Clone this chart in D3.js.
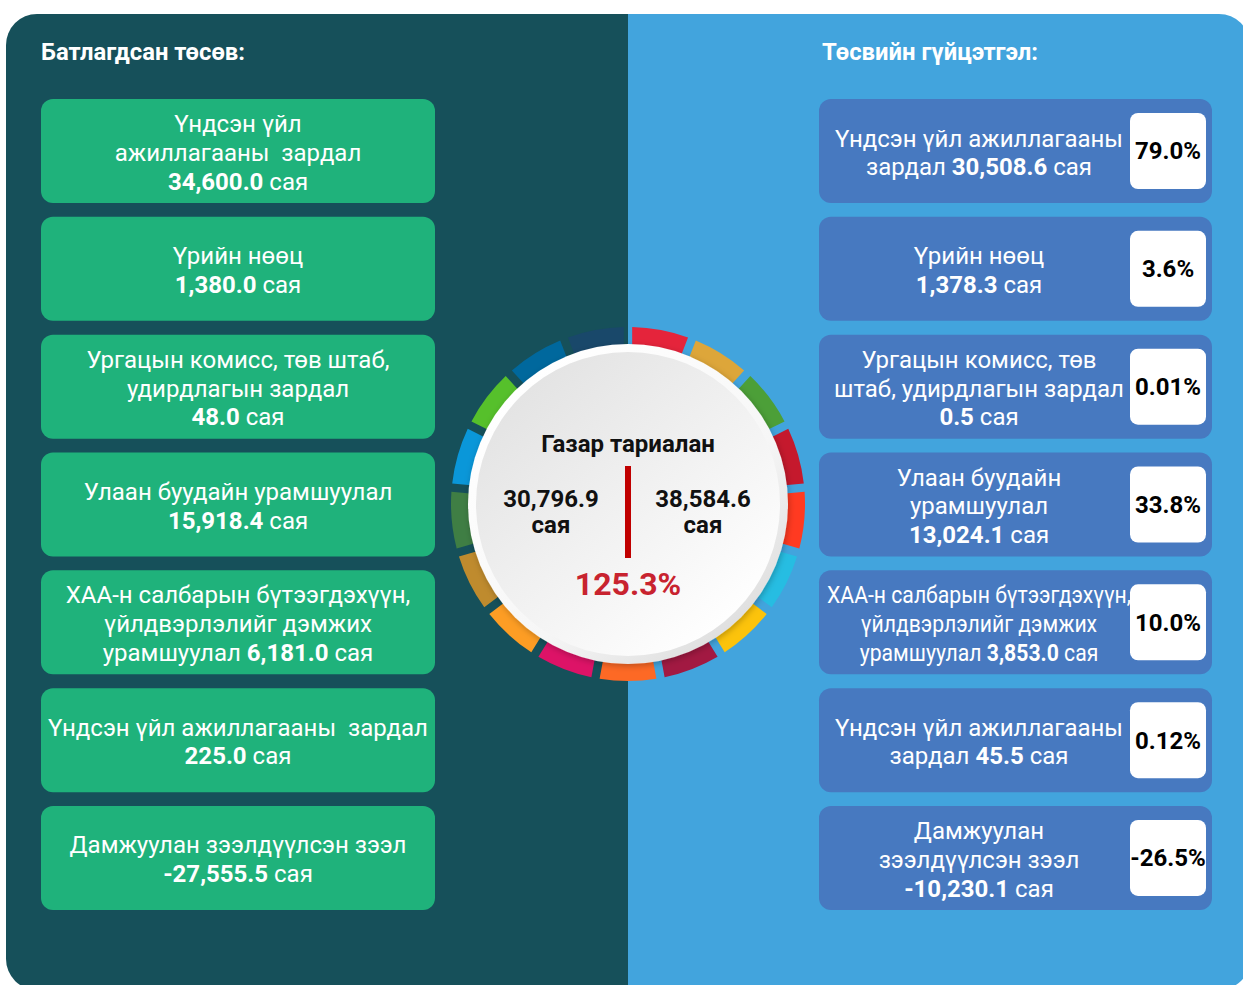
<!DOCTYPE html>
<html><head><meta charset="utf-8">
<script src="https://cdn.jsdelivr.net/npm/d3@7"></script>
<style>
body{margin:0;background:#fff;}
svg{display:block;font-family:Roboto,"Noto Sans",sans-serif;}
text{white-space:pre;}
</style>
</head><body>
<svg id="chart" width="1243" height="985"></svg>
<script>
// ---------------- DATA ----------------
const approvedTitle = "Батлагдсан төсөв:";
const executedTitle = "Төсвийн гүйцэтгэл:";
const unit = "сая";

const approvedLabels = [
  ["Үндсэн үйл", "ажиллагааны  зардал"],
  ["Үрийн нөөц"],
  ["Ургацын комисс, төв штаб,", "удирдлагын зардал"],
  ["Улаан буудайн урамшуулал"],
  ["ХАА-н салбарын бүтээгдэхүүн,", "үйлдвэрлэлийг дэмжих", "урамшуулал"],
  ["Үндсэн үйл ажиллагааны  зардал"],
  ["Дамжуулан зээлдүүлсэн зээл"]
];
const approvedValueInline = [false, false, false, false, true, false, false];
const approvedValues = [34600.0, 1380.0, 48.0, 15918.4, 6181.0, 225.0, -27555.5];

const executedLabels = [
  ["Үндсэн үйл ажиллагааны", "зардал"],
  ["Үрийн нөөц"],
  ["Ургацын комисс, төв", "штаб, удирдлагын зардал"],
  ["Улаан буудайн", "урамшуулал"],
  ["ХАА-н салбарын бүтээгдэхүүн,", "үйлдвэрлэлийг дэмжих", "урамшуулал"],
  ["Үндсэн үйл ажиллагааны", "зардал"],
  ["Дамжуулан", "зээлдүүлсэн зээл"]
];
const executedValueInline = [true, false, false, false, true, true, false];
const executedValues = [30508.6, 1378.3, 0.5, 13024.1, 3853.0, 45.5, -10230.1];
const executedPercents = [79.0, 3.6, 0.01, 33.8, 10.0, 0.12, -26.5];
const executedPercentDecimals = [1, 1, 2, 1, 1, 2, 1];

const centerTitle = "Газар тариалан";
const totalApproved = 30796.9;
const totalExecuted = 38584.6;
const totalPercent = 125.3;

const ringColors = ["#E5243B","#DDA63A","#4C9F38","#C5192D","#FF3A21","#26BDE2","#FCC30B",
  "#A21942","#FD6925","#DD1367","#FD9D24","#BF8B2E","#3F7E44","#0A97D9","#56C02B","#00689D","#19486A"];

// ---------------- SETUP ----------------
const svg = d3.select("#chart");
const loc = d3.formatLocale({decimal: ".", thousands: ",", grouping: [3], currency: ["", ""], minus: "-"});
const fmt = loc.format(",.1f");

const C = { dark: "#16505A", light: "#42A4DD", green: "#1FB27B", blue: "#4779C0" };

const defs = svg.append("defs");
const px = 6, py = 14, pw = 1244, ph = 976, pr = 31;
defs.append("clipPath").attr("id", "panelClip")
  .append("rect").attr("x", px).attr("y", py).attr("width", pw).attr("height", ph).attr("rx", pr);

const bg = svg.append("g").attr("clip-path", "url(#panelClip)");
const splitX = 628;
bg.append("rect").attr("x", px).attr("y", py).attr("width", splitX - px).attr("height", ph).attr("fill", C.dark);
bg.append("rect").attr("x", splitX).attr("y", py).attr("width", px + pw - splitX).attr("height", ph).attr("fill", C.light);

// titles
svg.append("text").attr("x", 41).attr("y", 60).attr("fill", "#fff")
  .attr("font-size", 24).attr("font-weight", 700)
  .attr("textLength", 204).attr("lengthAdjust", "spacingAndGlyphs")
  .text(approvedTitle);
svg.append("text").attr("x", 822).attr("y", 60).attr("fill", "#fff")
  .attr("font-size", 24).attr("font-weight", 700)
  .attr("textLength", 216).attr("lengthAdjust", "spacingAndGlyphs")
  .text(executedTitle);

// vertical band scale for boxes
const y = d3.scaleBand().domain(d3.range(approvedValues.length))
  .range([99, 910]).paddingInner(0.117).paddingOuter(0);
const bw = y.bandwidth();
const lh = 28.8, fs = 24;

function drawLines(parent, lines, inline, valueStr, cx, cy, maxW) {
  const g = parent.append("g");
  const base = inline ? lines.slice(0, -1) : lines.slice();
  const prefix = inline ? lines[lines.length - 1] + " " : "";
  const n = base.length + 1;
  const nodes = [];
  base.forEach((t, i) => {
    const tx = g.append("text").attr("x", cx).attr("y", cy + (i - (n - 1) / 2) * lh + 1.5)
      .attr("dy", "0.35em").attr("text-anchor", "middle").attr("fill", "#fff")
      .attr("font-size", fs).text(t);
    nodes.push(tx);
  });
  const last = g.append("text").attr("x", cx).attr("y", cy + ((n - 1) - (n - 1) / 2) * lh + 1.5)
    .attr("dy", "0.35em").attr("text-anchor", "middle").attr("fill", "#fff").attr("font-size", fs);
  if (prefix) last.append("tspan").text(prefix);
  last.append("tspan").attr("font-weight", 700).text(valueStr);
  last.append("tspan").text(" " + unit);
  nodes.push(last);
  const mx = d3.max(nodes, d => d.node().getComputedTextLength());
  if (mx > maxW) {
    const k = maxW / mx;
    g.attr("transform", `translate(${cx},0) scale(${k},1) translate(${-cx},0)`);
  }
}

// left boxes
const left = svg.append("g");
approvedValues.forEach((v, i) => {
  const g = left.append("g");
  g.append("rect").attr("x", 41).attr("y", y(i)).attr("width", 394).attr("height", bw)
    .attr("rx", 12).attr("fill", C.green);
  drawLines(g, approvedLabels[i], approvedValueInline[i], fmt(v), 238, y(i) + bw / 2, 384);
});

// right boxes
const right = svg.append("g");
executedValues.forEach((v, i) => {
  const g = right.append("g");
  g.append("rect").attr("x", 819).attr("y", y(i)).attr("width", 393).attr("height", bw)
    .attr("rx", 12).attr("fill", C.blue);
  g.append("rect").attr("x", 1130).attr("y", y(i) + 14).attr("width", 76).attr("height", 76)
    .attr("rx", 8).attr("fill", "#fff");
  drawLines(g, executedLabels[i], executedValueInline[i], fmt(v), 979, y(i) + bw / 2, 304);
  const p = loc.format("." + executedPercentDecimals[i] + "f")(executedPercents[i]) + "%";
  g.append("text").attr("x", 1168).attr("y", y(i) + 52).attr("dy", "0.35em")
    .attr("text-anchor", "middle").attr("font-size", 24).attr("font-weight", 700)
    .attr("fill", "#000").text(p);
});

// ring
const cx = 628, cy = 504;
const pie = d3.pie().sort(null).value(() => 1).padAngle(0.036);
const arc = d3.arc().innerRadius(150).outerRadius(177);
const ring = svg.append("g").attr("transform", `translate(${cx},${cy})`);
ring.selectAll("path").data(pie(ringColors)).join("path")
  .attr("d", arc).attr("fill", d => d.data);

// circle
const sh = defs.append("filter").attr("id", "shadow").attr("x", "-20%").attr("y", "-20%").attr("width", "140%").attr("height", "140%");
sh.append("feDropShadow").attr("dx", 1).attr("dy", 2).attr("stdDeviation", 3).attr("flood-color", "#000").attr("flood-opacity", 0.25);
const g1 = defs.append("linearGradient").attr("id", "inGrad").attr("x1", "0.15").attr("y1", "0.1").attr("x2", "0.85").attr("y2", "0.9");
g1.append("stop").attr("offset", "0").attr("stop-color", "#e3e3e3");
g1.append("stop").attr("offset", "1").attr("stop-color", "#ffffff");
const g2 = defs.append("linearGradient").attr("id", "rimGrad").attr("x1", "0.2").attr("y1", "0.1").attr("x2", "0.9").attr("y2", "0.9");
g2.append("stop").attr("offset", "0").attr("stop-color", "#ffffff");
g2.append("stop").attr("offset", "0.6").attr("stop-color", "#f6f6f6");
g2.append("stop").attr("offset", "1").attr("stop-color", "#dcdcdc");

const center = svg.append("g").attr("transform", `translate(${cx},${cy})`);
center.append("circle").attr("r", 160).attr("fill", "url(#rimGrad)").attr("filter", "url(#shadow)");
center.append("circle").attr("r", 152).attr("fill", "url(#inGrad)");

center.append("text").attr("x", 0).attr("y", -52).attr("text-anchor", "middle")
  .attr("font-size", 24).attr("font-weight", 700).attr("fill", "#111").text(centerTitle);
center.append("line").attr("x1", 0).attr("x2", 0).attr("y1", -38).attr("y2", 54)
  .attr("stroke", "#C00000").attr("stroke-width", 6);
[[-77, totalApproved], [75, totalExecuted]].forEach(([dx, v]) => {
  center.append("text").attr("x", dx).attr("y", 3).attr("text-anchor", "middle")
    .attr("font-size", 24).attr("font-weight", 700).attr("fill", "#111").text(fmt(v));
  center.append("text").attr("x", dx).attr("y", 29).attr("text-anchor", "middle")
    .attr("font-size", 24).attr("font-weight", 700).attr("fill", "#111").text(unit);
});
center.append("text").attr("x", 0).attr("y", 91).attr("text-anchor", "middle")
  .attr("font-size", 32).attr("font-weight", 700).attr("fill", "#C8232F")
  .text(loc.format(".1f")(totalPercent) + "%");
</script>
</body></html>
